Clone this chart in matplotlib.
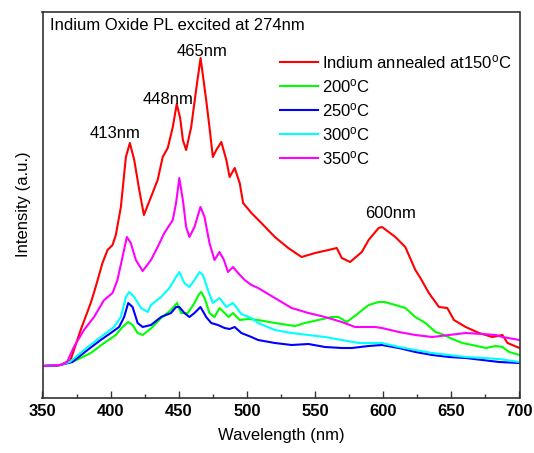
import matplotlib
matplotlib.use("Agg")
import matplotlib.pyplot as plt
from matplotlib.ticker import MultipleLocator, NullLocator
from matplotlib.font_manager import FontProperties

plt.rcParams['font.family'] = ['Liberation Sans', 'DejaVu Sans']
plt.rcParams['mathtext.fontset'] = 'custom'
plt.rcParams['mathtext.rm'] = 'Liberation Sans'
plt.rcParams['mathtext.it'] = 'Liberation Sans:italic'
plt.rcParams['mathtext.bf'] = 'Liberation Sans:bold'

# ---- data (wavelength nm, intensity a.u.) ----
red_wl = [350, 360, 363.3, 370.6, 378, 385.4, 389, 394, 397.7, 401.4, 403.8, 407.5, 411.2, 414.1, 417.3,
          421, 424.4, 429.6, 434.5, 438.2, 441.9, 445.6, 448.5, 451, 453, 455.4, 459.1, 462.7, 466, 470.1,
          472.5, 475, 477.5, 481.2, 484.9, 487.3, 491, 494.7, 497.2, 503.3, 510.6, 520.5, 530.3, 540.1, 550,
          559.8, 565.9, 569.6, 575.7, 584.3, 589.3, 596.6, 599.1, 608.9, 616.2, 623.6, 627.3, 633.5, 640.9,
          647, 651.9, 660.5, 670.3, 680.1, 687.5, 691.2, 700]
red_int = [34, 34, 35, 40, 70, 97, 113, 137, 150, 155, 165, 193, 243, 257, 240,
           210, 185, 203, 220, 243, 252, 273, 296, 282, 260, 250, 273, 310, 342, 300,
           273, 243, 250, 258, 240, 223, 232, 217, 197, 187, 177, 163, 152, 143, 147,
           150, 152, 142, 138, 148, 160, 172, 173, 163, 153, 130, 122, 107, 93,
           92, 80, 73, 67, 63, 65, 57, 52]

green_wl = [350, 363, 375, 385.4, 395.2, 403.8, 408.7, 412.9, 416.1, 419.8, 423.5, 430, 437, 444.3, 448.7,
            451.7, 456.6, 461.5, 464.5, 466.4, 468.9, 472.5, 476.2, 479.9, 483.6, 486.5, 489.8, 494.7, 501,
            508.2, 520.5, 535.2, 542.6, 552.4, 562.2, 567.1, 573.3, 581.9, 589.3, 596.6, 601, 608.9, 616.2,
            623.6, 631, 638.4, 644.6, 650.7, 658.1, 665.4, 675.2, 682.6, 687.5, 692.4, 700]
green_int = [34, 35, 40, 47, 57, 65, 73, 78, 75, 67, 65, 72, 82, 90, 97,
             87, 87, 97, 105, 108, 102, 87, 83, 92, 87, 83, 87, 80, 81,
             80, 77, 74, 77, 80, 83, 83, 78, 87, 95, 98, 98, 95, 92,
             83, 77, 68, 65, 61, 57, 55, 52, 54, 53, 48, 45]

blue_wl = [350, 363, 372, 383, 392.7, 400.1, 406.2, 409.9, 412.9, 416.1, 419.8, 423.5, 429.6, 437, 444.3,
           448, 450.4, 454.1, 457.8, 461.5, 465.9, 470.1, 473.8, 478.7, 483.6, 487.3, 491, 495.9, 503.3,
           508.2, 520.5, 532.8, 545.1, 557.3, 569.6, 577, 589.3, 599, 611.4, 623.6, 635.9, 648.2, 660.5,
           672.8, 685, 700]
blue_int = [34, 35, 38, 50, 60, 67, 73, 83, 97, 93, 77, 73, 75, 83, 87,
            93, 93, 87, 83, 87, 93, 83, 77, 75, 72, 71, 73, 67, 63,
            60, 57, 55, 56, 53, 52, 52, 54, 55, 52, 48, 45, 43, 42,
            40, 38, 37]

cyan_wl = [350, 363, 370, 380.4, 392.7, 402.5, 407.5, 411.2, 413.6, 417.3, 422.2, 427.2, 429.6, 437, 443.1,
           448, 450.4, 454.1, 457.8, 461.5, 465.2, 467.7, 471.4, 475, 479.9, 484.9, 489.8, 495.9, 503.3,
           508.2, 520.5, 532.8, 545.1, 557.3, 569.6, 581.9, 594, 599, 611.4, 623.6, 635.9, 648.2, 660.5,
           672.8, 685, 700]
cyan_int = [34, 35, 38, 50, 63, 73, 83, 103, 108, 103, 92, 88, 95, 103, 112,
            123, 128, 117, 113, 120, 128, 125, 110, 97, 102, 93, 97, 86, 82,
            77, 70, 67, 65, 63, 60, 57, 57, 57, 53, 50, 47, 45, 43,
            42, 41, 38]

magenta_wl = [350, 363.3, 368, 373, 380.4, 387.8, 395.2, 401.4, 405, 408.7, 411.9, 414.8, 418.5, 423.5,
              429.6, 434.5, 439.4, 445.6, 448, 450.4, 453, 455.4, 457.8, 461.5, 465.9, 468.9, 472.5, 476.2,
              479.9, 483.1, 486.1, 489.8, 493.5, 498.3, 503.3, 508.2, 520.5, 532.8, 545.1, 557.3, 569.6,
              579.4, 594, 599, 611.4, 623.6, 635.9, 648.2, 660.5, 672.8, 682.6, 687.5, 700]
magenta_int = [34, 35, 38, 53, 70, 83, 100, 107, 120, 143, 163, 157, 140, 129,
               140, 153, 167, 180, 197, 222, 200, 173, 163, 173, 193, 183, 157, 140,
               148, 140, 128, 133, 127, 120, 115, 112, 102, 92, 87, 83, 78,
               73, 73, 72, 68, 65, 63, 65, 67, 66, 65, 63, 60]

series = [
    (red_wl, red_int, '#FF0000', r'Indium annealed at150$^{\mathrm{o}}$C'),
    (green_wl, green_int, '#00FF00', r'200$^{\mathrm{o}}$C'),
    (blue_wl, blue_int, '#0000FF', r'250$^{\mathrm{o}}$C'),
    (cyan_wl, cyan_int, '#00FFFF', r'300$^{\mathrm{o}}$C'),
    (magenta_wl, magenta_int, '#FF00FF', r'350$^{\mathrm{o}}$C'),
]

xticks = [350, 400, 450, 500, 550, 600, 650, 700]

peak_labels = ['413nm', '448nm', '465nm', '600nm']
peak_pos = [(403.5, 267), (442, 301), (466.8, 348), (605.7, 186.5)]

# ---- figure ----
W, H = 534, 453
L, R, B, T = 42.5, 519.5, 397.5, 11.5
fig = plt.figure(figsize=(W/100, H/100), dpi=100)
ax = fig.add_axes([L/W, 1 - B/H, (R - L)/W, (B - T)/H])

for wl, it, c, lab in series:
    ax.plot(wl, it, color=c, lw=1.5, label=lab)

ax.set_xlim(350, 700)
ax.set_ylim(400 - B, 400 - T)
ax.set_xticks(xticks)
bold_fp = FontProperties(family='Liberation Sans', weight='bold', size=12)
ax.set_xticklabels([str(v) for v in xticks], fontproperties=bold_fp)
ax.xaxis.set_minor_locator(MultipleLocator(25))
ax.yaxis.set_major_locator(NullLocator())
ax.tick_params(axis='x', which='major', direction='in', length=5.3, width=1.0,
               pad=5, color='#333333')
ax.tick_params(axis='x', which='minor', direction='in', length=3, width=1.0, color='#333333')
for s in ax.spines.values():
    s.set_color('#333333')
    s.set_linewidth(1.2)

ax.set_xlabel('Wavelength (nm)', fontsize=12, labelpad=6)
ax.set_ylabel('Intensity (a.u.)', fontsize=12, labelpad=8)

ax.text(0.015, 0.963, 'Indium Oxide PL excited at 274nm', transform=ax.transAxes,
        fontsize=12, va='center', ha='left')

for t, (px, py) in zip(peak_labels, peak_pos):
    ax.text(px, py, t, fontsize=12, ha='center', va='center')

leg = ax.legend(loc='upper left', bbox_to_anchor=(280/W, 1 - 53/H),
                bbox_transform=fig.transFigure, frameon=False, fontsize=12,
                handlelength=2.3, handletextpad=0.25, labelspacing=0.36,
                borderpad=0, borderaxespad=0)

fig.savefig('out.png', dpi=100)
